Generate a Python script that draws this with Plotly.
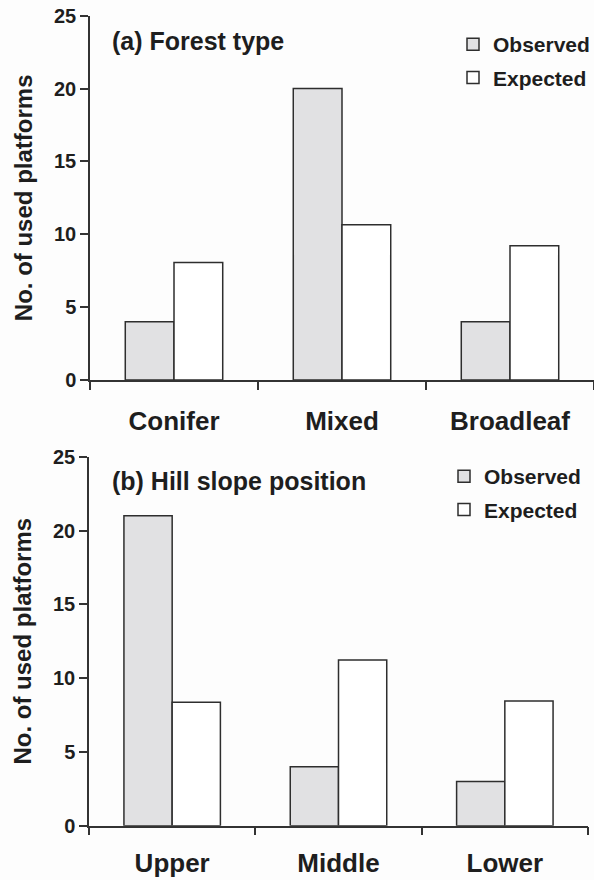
import plotly.graph_objects as go

# ---- data ----
categories_a = ["Conifer", "Mixed", "Broadleaf"]
observed_a = [4, 20, 4]
expected_a = [8.07, 10.65, 9.22]

categories_b = ["Upper", "Middle", "Lower"]
observed_b = [21, 4, 3]
expected_b = [8.36, 11.23, 8.45]

series_names = ["Observed", "Expected"]
panel_titles = ["(a) Forest type", "(b) Hill slope position"]
y_title = "No. of used platforms"
y_ticks = [0, 5, 10, 15, 20, 25]

# ---- style ----
W, H = 594, 880
FONT = "Liberation Sans, Arial, sans-serif"
TXT = "#1e1e1e"
AX = "#333333"
OBS_FILL = "#e1e1e3"
EXP_FILL = "#ffffff"
BG = "#fdfdfd"

def px_x(p):
    return p / W

def px_y(p):
    return 1 - p / H

fig = go.Figure()

line = dict(color="#2e2e2e", width=1.5)
fig.add_trace(go.Bar(x=categories_a, y=observed_a, name=series_names[0],
                     marker=dict(color=OBS_FILL, line=line),
                     xaxis="x", yaxis="y", legend="legend", legendgroup="a1"))
fig.add_trace(go.Bar(x=categories_a, y=expected_a, name=series_names[1],
                     marker=dict(color=EXP_FILL, line=line),
                     xaxis="x", yaxis="y", legend="legend", legendgroup="a2"))
fig.add_trace(go.Bar(x=categories_b, y=observed_b, name=series_names[0],
                     marker=dict(color=OBS_FILL, line=line),
                     xaxis="x2", yaxis="y2", legend="legend2", legendgroup="b1"))
fig.add_trace(go.Bar(x=categories_b, y=expected_b, name=series_names[1],
                     marker=dict(color=EXP_FILL, line=line),
                     xaxis="x2", yaxis="y2", legend="legend2", legendgroup="b2"))

xcommon = dict(type="category", showline=True, linecolor=AX, linewidth=1.5,
               ticks="outside", tickson="boundaries", ticklen=8, tickwidth=1.5,
               tickcolor=AX, showgrid=False, zeroline=False, automargin=False,
               tickfont=dict(family=FONT, size=26, color=TXT, weight="bold"),
               ticklabelstandoff=17, fixedrange=True)
ycommon = dict(range=[0, 25], tickvals=y_ticks, showline=True, linecolor=AX,
               linewidth=1.5, ticks="outside", ticklen=8, tickwidth=1.5,
               tickcolor=AX, showgrid=False, zeroline=False, automargin=False,
               tickfont=dict(family=FONT, size=20, color=TXT, weight="bold"),
               ticklabelstandoff=0, fixedrange=True,
               title=dict(text=y_title, standoff=15,
                          font=dict(family=FONT, size=24, color=TXT, weight="bold")))

legend_common = dict(font=dict(family=FONT, size=21, color=TXT, weight="bold"),
                     bgcolor="rgba(0,0,0,0)", xanchor="left", yanchor="top",
                     tracegroupgap=3, itemclick=False, itemdoubleclick=False)

fig.update_layout(
    width=W, height=H,
    margin=dict(l=0, r=0, t=0, b=0, pad=0, autoexpand=False),
    paper_bgcolor=BG, plot_bgcolor=BG,
    barmode="group", bargap=0.42, bargroupgap=0,
    showlegend=True,
    xaxis=dict(xcommon, domain=[px_x(90), px_x(594)], anchor="y"),
    yaxis=dict(ycommon, domain=[px_y(380), px_y(15.7)], anchor="x"),
    xaxis2=dict(xcommon, domain=[px_x(89), px_x(588)], anchor="y2",
                ticklabelstandoff=13),
    yaxis2=dict(ycommon, domain=[px_y(825.7), px_y(456.7)], anchor="x2"),
    legend=dict(legend_common, x=px_x(453), y=px_y(24)),
    legend2=dict(legend_common, x=px_x(444), y=px_y(456)),
    annotations=[
        dict(text=panel_titles[0], x=px_x(110), y=px_y(41), xref="paper", yref="paper",
             xanchor="left", yanchor="middle", showarrow=False,
             font=dict(family=FONT, size=25, color=TXT, weight="bold")),
        dict(text=panel_titles[1], x=px_x(110), y=px_y(481), xref="paper", yref="paper",
             xanchor="left", yanchor="middle", showarrow=False,
             font=dict(family=FONT, size=25, color=TXT, weight="bold")),
    ],
)

fig.write_html("out.html",
               config={"displayModeBar": False, "staticPlot": False},
               post_script="document.body.style.margin='0';document.body.style.background='%s';" % BG)
